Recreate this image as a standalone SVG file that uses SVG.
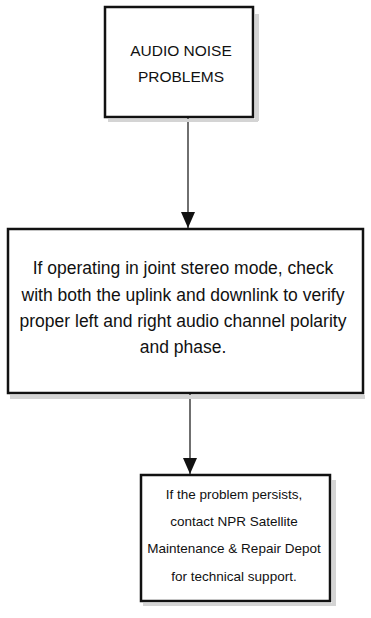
<svg xmlns="http://www.w3.org/2000/svg" width="371" height="618" viewBox="0 0 371 618">
<style>
.box{fill:#fff;stroke:#111;stroke-width:2.5}
.shadow{fill:#d4d4d4}
.t{font-family:"Liberation Sans",Arial,sans-serif;fill:#111;text-anchor:middle}
.t1{font-size:15.5px}
.t2{font-size:17.5px}
.t3{font-size:13.5px}
.edge{stroke:#222;stroke-width:1.3;fill:none}
</style>
<defs>
<marker id="arr" viewBox="0 0 16 14" refX="16" refY="7" markerWidth="16" markerHeight="14" markerUnits="userSpaceOnUse" orient="auto">
<path d="M0,0 L16,7 L0,14 Z" fill="#111"/>
</marker>
</defs>
<rect width="371" height="618" fill="#fff"/>
<g id="connectors">
<line class="edge" x1="188" y1="118" x2="188" y2="228" marker-end="url(#arr)"/>
<line class="edge" x1="190" y1="394" x2="190" y2="474" marker-end="url(#arr)"/>
</g>
<g id="node1">
<rect class="shadow" x="255" y="14" width="4" height="107"/>
<rect class="shadow" x="108" y="119" width="150" height="3"/>
<rect class="box" x="105" y="7" width="148" height="110"/>
<text class="t t1" x="181" y="56">AUDIO NOISE</text>
<text class="t t1" x="181" y="82">PROBLEMS</text>
</g>
<g id="node2">
<rect class="shadow" x="10" y="395" width="355" height="4"/>
<rect class="box" x="8" y="229" width="355" height="164"/>
<text class="t t2" x="183" y="274">If operating in joint stereo mode, check</text>
<text class="t t2" x="183" y="301">with both the uplink and downlink to verify</text>
<text class="t t2" x="183" y="327">proper left and right audio channel polarity</text>
<text class="t t2" x="183" y="353">and phase.</text>
</g>
<g id="node3">
<rect class="shadow" x="332" y="480" width="4" height="126"/>
<rect class="shadow" x="143" y="603" width="193" height="3"/>
<rect class="box" x="141" y="475" width="189" height="126"/>
<text class="t t3" x="234" y="499">If the problem persists,</text>
<text class="t t3" x="234" y="526">contact NPR Satellite</text>
<text class="t t3" x="234" y="553">Maintenance &amp; Repair Depot</text>
<text class="t t3" x="234" y="581">for technical support.</text>
</g>
</svg>
